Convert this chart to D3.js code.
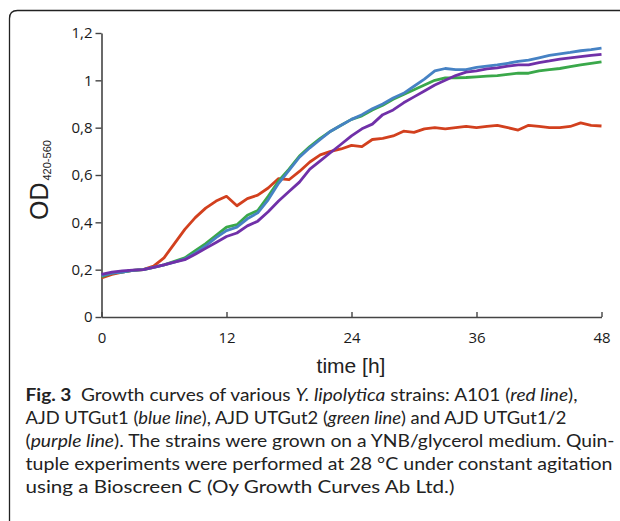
<!DOCTYPE html>
<html>
<head>
<meta charset="utf-8">
<script src="https://cdn.jsdelivr.net/npm/d3@7"></script>
<style>
  body { margin: 0; background: #fff; }
  svg { display: block; }
</style>
</head>
<body>
<div id="chart"></div>
<script>
(function() {
  var width = 620,
      height = 521;

  // Time in hours, one reading per hour.
  var hours = d3.range(0, 49);

  // OD420-560, one value per hour.
  var a101 = [0.165, 0.18, 0.19, 0.197, 0.20, 0.215, 0.25, 0.31, 0.37, 0.42,
              0.46, 0.49, 0.51, 0.47, 0.50, 0.515, 0.545, 0.585, 0.58, 0.615,
              0.655, 0.685, 0.70, 0.71, 0.725, 0.72, 0.75, 0.755, 0.765, 0.785,
              0.78, 0.795, 0.80, 0.795, 0.80, 0.805, 0.80, 0.805, 0.81, 0.80,
              0.79, 0.81, 0.805, 0.80, 0.80, 0.805, 0.82, 0.81, 0.807];
  var utgut1 = [0.175, 0.185, 0.19, 0.197, 0.20, 0.21, 0.22, 0.232, 0.245, 0.27,
                0.30, 0.335, 0.365, 0.38, 0.415, 0.44, 0.495, 0.565, 0.62, 0.675,
                0.715, 0.75, 0.785, 0.81, 0.835, 0.855, 0.88, 0.90, 0.925, 0.945,
                0.975, 1.005, 1.04, 1.05, 1.045, 1.045, 1.055, 1.06, 1.065, 1.072,
                1.08, 1.085, 1.095, 1.105, 1.112, 1.118, 1.125, 1.13, 1.136];
  var utgut2 = [0.17, 0.185, 0.19, 0.197, 0.20, 0.21, 0.22, 0.235, 0.25, 0.28,
                0.31, 0.345, 0.38, 0.39, 0.43, 0.45, 0.51, 0.575, 0.625, 0.68,
                0.72, 0.755, 0.785, 0.81, 0.835, 0.85, 0.875, 0.895, 0.92, 0.94,
                0.96, 0.98, 1.0, 1.01, 1.01, 1.012, 1.015, 1.018, 1.02, 1.025,
                1.03, 1.03, 1.04, 1.045, 1.05, 1.058, 1.065, 1.072, 1.078];
  var utgut12 = [0.18, 0.19, 0.195, 0.198, 0.20, 0.21, 0.22, 0.232, 0.242, 0.265,
                 0.29, 0.315, 0.34, 0.355, 0.385, 0.405, 0.445, 0.49, 0.53, 0.57,
                 0.625, 0.66, 0.695, 0.73, 0.765, 0.795, 0.815, 0.855, 0.875, 0.905,
                 0.93, 0.955, 0.98, 1.0, 1.02, 1.035, 1.04, 1.048, 1.053, 1.06,
                 1.065, 1.065, 1.075, 1.082, 1.09, 1.095, 1.10, 1.105, 1.11];

  var xTicks = [0, 12, 24, 36, 48];
  var yTicks = [0, 0.2, 0.4, 0.6, 0.8, 1, 1.2];

  // Drawing order: red underneath, blue on top.
  var series = [
    { name: "A101", values: a101, color: "#d2401e" },
    { name: "AJD UTGut2", values: utgut2, color: "#3aa84a" },
    { name: "AJD UTGut1", values: utgut1, color: "#4682c4" },
    { name: "AJD UTGut1/2", values: utgut12, color: "#7030a8" }
  ];

  var svg = d3.select("#chart")
    .append("svg")
      .attr("width", width)
      .attr("height", height);

  // Frame of the figure panel (rounded top-left corner, open to the right and bottom).
  svg.append("path")
    .attr("d", "M9.5," + height + " V18.5 Q9.5,10.5 17.5,10.5 H" + width)
    .attr("fill", "none")
    .attr("stroke", "#222")
    .attr("stroke-width", 1.3);

  var x = d3.scaleLinear().domain([0, 48]).range([101.5, 601.5]);
  var y = d3.scaleLinear().domain([0, 1.2]).range([317, 33]);

  var fmt = function(d) { return String(+d.toFixed(1)).replace(".", ","); };

  // y axis
  var yAxis = svg.append("g")
    .attr("transform", "translate(" + x(0) + ",0)")
    .call(d3.axisLeft(y).tickValues(yTicks).tickSize(6).tickSizeOuter(0)
      .tickPadding(3).tickFormat(fmt));

  // x axis, ticks pointing up
  var xAxis = svg.append("g")
    .attr("transform", "translate(0," + y(0) + ")")
    .call(d3.axisBottom(x).tickValues(xTicks).tickSizeInner(-5).tickSizeOuter(0)
      .tickPadding(15));

  [xAxis, yAxis].forEach(function(g) {
    g.select(".domain").attr("stroke", "#444").attr("stroke-width", 1.6);
    g.selectAll(".tick line").attr("stroke", "#444").attr("stroke-width", 1.4);
    g.selectAll(".tick text")
      .attr("fill", "#1a1a1a")
      .style("font-family", "'Open Sans', sans-serif")
      .style("font-size", "15px");
  });

  // curves
  var line = d3.line()
    .x(function(d) { return x(d[0]); })
    .y(function(d) { return y(d[1]); });

  svg.append("g")
    .selectAll("path")
    .data(series)
    .enter()
    .append("path")
      .attr("d", function(s) {
        return line(hours.map(function(h, i) { return [h, s.values[i]]; }));
      })
      .attr("fill", "none")
      .attr("stroke", function(s) { return s.color; })
      .attr("stroke-width", 2.8)
      .attr("stroke-linejoin", "round");

  // axis titles
  svg.append("text")
    .attr("x", 351)
    .attr("y", 373)
    .attr("text-anchor", "middle")
    .style("font-family", "'Liberation Sans', Arial, sans-serif")
    .style("font-size", "21px")
    .attr("fill", "#222")
    .text("time [h]");

  var yTitle = svg.append("text")
    .attr("transform", "translate(48,220) rotate(-90)")
    .style("font-family", "'Liberation Sans', Arial, sans-serif")
    .attr("fill", "#222");
  yTitle.append("tspan").style("font-size", "25px").text("OD");
  yTitle.append("tspan").style("font-size", "11px").attr("dy", 3).attr("dx", 2).text("420-560");

  // caption
  var caption = [
    { w: 552, parts: [["b", "Fig. 3"], ["", "\u2002Growth curves of various "], ["i", "Y. lipolytica"], ["", " strains: A101 ("], ["i", "red line"], ["", "),"]] },
    { w: 541, parts: [["", "AJD UTGut1 ("], ["i", "blue line"], ["", "), AJD UTGut2 ("], ["i", "green line"], ["", ") and AJD UTGut1/2"]] },
    { w: 589, parts: [["", "("], ["i", "purple line"], ["", "). The strains were grown on a YNB/glycerol medium. Quin-"]] },
    { w: 587, parts: [["", "tuple experiments were performed at 28 \u00b0C under constant agitation"]] },
    { w: 429, parts: [["", "using a Bioscreen C (Oy Growth Curves Ab Ltd.)"]] }
  ];

  caption.forEach(function(row, i) {
    var t = svg.append("text")
      .attr("x", 25.5)
      .attr("y", 401 + i * 23)
      .attr("textLength", row.w)
      .attr("lengthAdjust", "spacingAndGlyphs")
      .style("font-family", "Lato, sans-serif")
      .style("font-size", "16.5px")
      .attr("fill", "#222");
    row.parts.forEach(function(p) {
      var s = t.append("tspan").text(p[1]);
      if (p[0] === "b") s.style("font-weight", "bold");
      if (p[0] === "i") s.style("font-style", "italic");
    });
  });
})();
</script>
</body>
</html>
